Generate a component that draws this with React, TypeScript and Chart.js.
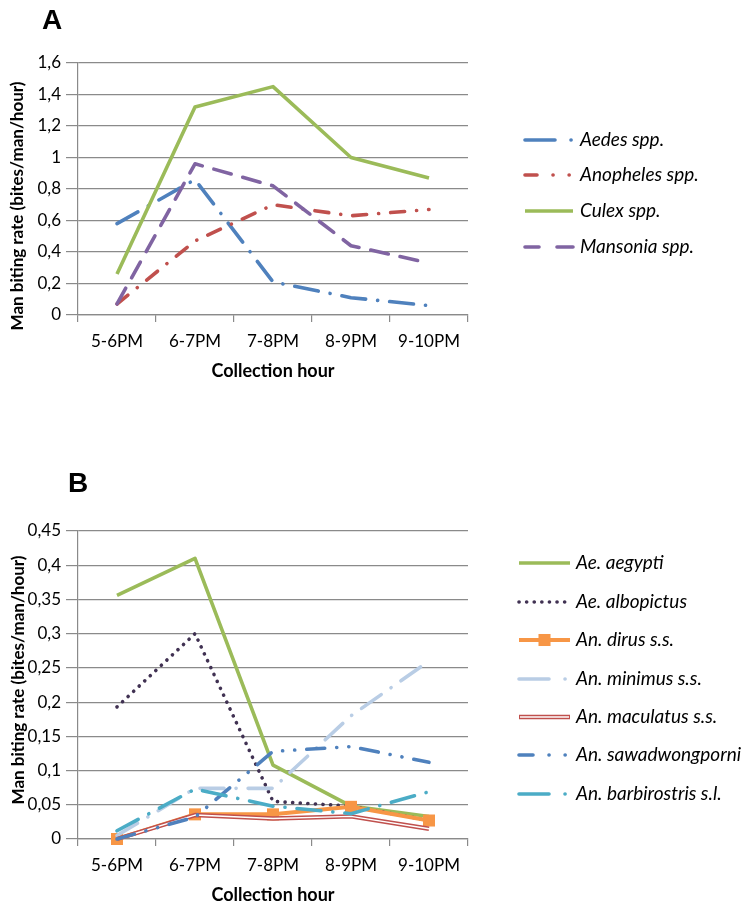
import React, { useEffect, useRef } from 'react';
import { Chart, registerables } from 'chart.js';
Chart.register(...registerables);

// ---------- data ----------
const hours = ['5-6PM', '6-7PM', '7-8PM', '8-9PM', '9-10PM'];

// Panel A (genus level)
const aedesSpp = [0.58, 0.86, 0.21, 0.11, 0.06];
const anophelesSpp = [0.07, 0.47, 0.70, 0.63, 0.67];
const culexSpp = [0.26, 1.32, 1.45, 1.0, 0.87];
const mansoniaSpp = [0.07, 0.96, 0.82, 0.44, 0.33];
const yMaxA = 1.6;
const yStepA = 0.2;

// Panel B (species level)
const aeAegypti = [0.356, 0.41, 0.108, 0.048, 0.033];
const aeAlbopictus = [0.193, 0.30, 0.055, 0.048, 0.027];
const anDirus = [0.0, 0.036, 0.036, 0.047, 0.027];
const anMinimus = [0.005, 0.074, 0.074, 0.18, 0.26];
const anMaculatus = [0.0, 0.035, 0.030, 0.033, 0.015];
const anSawadwongporni = [0.0, 0.032, 0.128, 0.135, 0.112];
const anBarbirostris = [0.012, 0.073, 0.048, 0.037, 0.069];
const yMaxB = 0.45;
const yStepB = 0.05;

const xTitle = 'Collection hour';
const yTitle = 'Man biting rate (bites/man/hour)';

const GRID = '#8a8a8a';
const FONT = 'Lato, "Open Sans", sans-serif';

const fmt = (v: number) => String(Math.round(v * 1000) / 1000).replace('.', ',');

type Deco = {
  letter: string;
  letterX: number;
  letterY: number;
  xTitleY: number;
  yTitleX: number;
  yTitleY: number;
  legendX1: number;
  legendX2: number;
  legendTextX: number;
  legendRows: number[];
};

function decoPlugin(d: Deco) {
  return {
    id: 'deco',
    afterDraw(chart: any) {
      const ctx = chart.ctx as CanvasRenderingContext2D;
      const area = chart.chartArea;
      ctx.save();
      // panel letter
      ctx.fillStyle = '#000';
      ctx.font = 'bold 28px "Liberation Sans", Arial, sans-serif';
      ctx.textAlign = 'center';
      ctx.textBaseline = 'middle';
      ctx.fillText(d.letter, d.letterX, d.letterY);
      // x title
      ctx.font = `bold 18px ${FONT}`;
      ctx.fillText(xTitle, (area.left + area.right) / 2, d.xTitleY);
      // y title
      ctx.save();
      ctx.font = `bold 17px ${FONT}`;
      ctx.translate(d.yTitleX, d.yTitleY);
      ctx.rotate(-Math.PI / 2);
      ctx.fillText(yTitle, 0, 0);
      ctx.restore();
      // legend
      let row = 0;
      chart.data.datasets.forEach((ds: any) => {
        if (ds.noLegend) return;
        const y = d.legendRows[row++];
        ctx.save();
        ctx.strokeStyle = ds.borderColor;
        ctx.lineWidth = ds.borderWidth;
        ctx.lineCap = ds.borderCapStyle || 'butt';
        ctx.setLineDash(ds.legendDash || ds.borderDash || []);
        ctx.beginPath();
        ctx.moveTo(d.legendX1, y);
        ctx.lineTo(d.legendX2, y);
        ctx.stroke();
        if (ds.innerColor) {
          ctx.setLineDash([]);
          ctx.strokeStyle = ds.innerColor;
          ctx.lineWidth = 1.4;
          ctx.beginPath();
          ctx.moveTo(d.legendX1 + 1, y);
          ctx.lineTo(d.legendX2 - 1, y);
          ctx.stroke();
        }
        if (ds.pointStyle === 'rect' && ds.pointRadius > 0) {
          const s = ds.pointRadius * Math.SQRT1_2;
          ctx.fillStyle = ds.pointBackgroundColor;
          ctx.fillRect((d.legendX1 + d.legendX2) / 2 - s, y - s, 2 * s, 2 * s);
        }
        ctx.restore();
        ctx.fillStyle = '#000';
        ctx.font = `italic 19px ${FONT}`;
        ctx.textAlign = 'left';
        ctx.textBaseline = 'middle';
        ctx.fillText(ds.label, d.legendTextX, y);
      });
      ctx.restore();
    },
  };
}

function makeOptions(yMax: number, yStep: number, padTop: number, padBottom: number) {
  return {
    responsive: false,
    animation: false as const,
    devicePixelRatio: 1,
    layout: { padding: { left: 0, top: padTop, right: 751 - 468, bottom: padBottom } },
    plugins: { legend: { display: false }, tooltip: { enabled: false }, title: { display: false } },
    elements: { point: { radius: 0 }, line: { tension: 0 } },
    scales: {
      x: {
        type: 'category' as const,
        offset: true,
        afterFit: (s: any) => {
          s.height = 40;
        },
        grid: {
          offset: true,
          drawOnChartArea: false,
          drawTicks: true,
          tickLength: 7,
          color: GRID,
          tickColor: GRID,
          lineWidth: 1.2,
        },
        border: { display: true, color: GRID, width: 1.2 },
        ticks: { color: '#000', font: { family: FONT, size: 17 }, padding: 9, maxRotation: 0 },
      },
      y: {
        min: 0,
        max: yMax,
        afterFit: (s: any) => {
          s.width = 78;
        },
        grid: { color: GRID, tickColor: GRID, tickLength: 12, lineWidth: 1.2 },
        border: { display: true, color: GRID, width: 1.2 },
        ticks: {
          stepSize: yStep,
          color: '#000',
          padding: 5,
          font: { family: FONT, size: 17 },
          callback: (v: any) => fmt(Number(v)),
        },
      },
    },
  };
}

function line(label: string, data: number[], color: string, dash: number[], extra: any = {}) {
  return {
    label,
    data,
    borderColor: color,
    backgroundColor: color,
    borderWidth: 3.6,
    borderDash: dash,
    borderCapStyle: dash.length ? 'round' : 'butt',
    borderJoinStyle: 'round',
    pointRadius: 0,
    fill: false,
    clip: false,
    ...extra,
  };
}

function configA() {
  const ds = [
    line('Aedes spp.', aedesSpp, '#4F81BD', [24, 12, 0.1, 12], { legendDash: [30, 16, 0.1, 20] }),
    line('Anopheles spp.', anophelesSpp, '#C0504D', [14, 12, 0.1, 12], { legendDash: [12, 16, 0.1, 16, 0.1, 20] }),
    line('Culex spp.', culexSpp, '#9BBB59', []),
    line('Mansonia spp.', mansoniaSpp, '#8064A2', [18, 12], { legendDash: [14, 18, 16, 20] }),
  ];
  ds.forEach((d: any, i) => (d.order = -i));
  return {
    type: 'line' as const,
    data: { labels: hours, datasets: ds },
    options: makeOptions(yMaxA, yStepA, 63, 454 - 315 - 40),
    plugins: [
      decoPlugin({
        letter: 'A',
        letterX: 52,
        letterY: 21,
        xTitleY: 371,
        yTitleX: 18,
        yTitleY: 206,
        legendX1: 525,
        legendX2: 573,
        legendTextX: 580,
        legendRows: [140, 175, 211, 247],
      }),
    ],
  };
}

function configB() {
  const ds: any[] = [
    line('Ae. aegypti', aeAegypti, '#9BBB59', []),
    line('Ae. albopictus', aeAlbopictus, '#403152', [0.1, 7.5], { borderWidth: 3.6 }),
    line('An. dirus s.s.', anDirus, '#F79646', [], {
      borderWidth: 4,
      pointRadius: 8.5,
      pointStyle: 'rect',
      pointBackgroundColor: '#F79646',
      pointBorderColor: '#F79646',
      pointBorderWidth: 0,
    }),
    line('An. minimus s.s.', anMinimus, '#B9CDE5', [24, 12, 0.1, 12], { legendDash: [30, 16, 0.1, 20] }),
    line('An. maculatus s.s.', anMaculatus, '#C0504D', [], { borderWidth: 4.4, innerColor: '#ffffff' }),
    line('', anMaculatus, '#ffffff', [], { borderWidth: 1.4, noLegend: true }),
    line('An. sawadwongporni', anSawadwongporni, '#4F81BD', [18, 12, 0.1, 12, 0.1, 12], { legendDash: [14, 16, 0.1, 16, 0.1, 20] }),
    line('An. barbirostris s.l.', anBarbirostris, '#4BACC6', [24, 12, 0.1, 12], { legendDash: [30, 16, 0.1, 20] }),
  ];
  ds.forEach((d: any, i) => (d.order = -i));
  return {
    type: 'line' as const,
    data: { labels: hours, datasets: ds },
    options: makeOptions(yMaxB, yStepB, 77, 454 - 385 - 40),
    plugins: [
      decoPlugin({
        letter: 'B',
        letterX: 78,
        letterY: 30,
        xTitleY: 441,
        yTitleX: 19,
        yTitleY: 226,
        legendX1: 519,
        legendX2: 570,
        legendTextX: 576,
        legendRows: [109, 148, 186, 225, 263, 301, 340],
      }),
    ],
  };
}

function Panel({ top, make }: { top: number; make: () => any }) {
  const ref = useRef<HTMLCanvasElement | null>(null);
  useEffect(() => {
    if (!ref.current) return;
    const chart = new Chart(ref.current, make());
    return () => chart.destroy();
  }, []);
  return (
    <canvas
      ref={ref}
      width={751}
      height={454}
      style={{ position: 'absolute', left: 0, top, width: 751, height: 454, display: 'block' }}
    />
  );
}

export default function App() {
  return (
    <div style={{ position: 'absolute', left: 0, top: 0, width: 751, height: 908, background: '#fff' }}>
      <Panel top={0} make={configA} />
      <Panel top={454} make={configB} />
    </div>
  );
}
